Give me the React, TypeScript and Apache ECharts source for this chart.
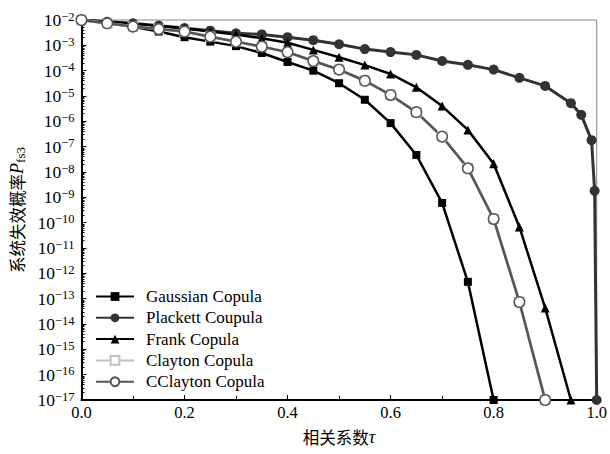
import React, { useEffect, useRef } from "react";
import * as echarts from "echarts";

const seriesNames = ["Gaussian Copula", "Plackett Coupula", "Frank Copula", "Clayton Copula", "CClayton Copula"];

const tauStep = [0, 0.05, 0.1, 0.15, 0.2, 0.25, 0.3, 0.35, 0.4, 0.45, 0.5, 0.55, 0.6, 0.65, 0.7, 0.75, 0.8, 0.85, 0.9, 0.95];
const tauPlackett = [0, 0.05, 0.1, 0.15, 0.2, 0.25, 0.3, 0.35, 0.4, 0.45, 0.5, 0.55, 0.6, 0.65, 0.7, 0.75, 0.8, 0.85, 0.9, 0.95, 0.97, 0.99, 0.996, 1.0];

const gaussian = [1e-2, 7.6e-3, 5.4e-3, 3.5e-3, 2.1e-3, 1.4e-3, 9.3e-4, 5.0e-4, 2.2e-4, 1.0e-4, 3.2e-5, 7.1e-6, 8.5e-7, 4.7e-8, 6.0e-10, 4.6e-13, 1e-17];
const plackett = [1e-2, 8.5e-3, 7.4e-3, 6.0e-3, 4.8e-3, 3.8e-3, 3.0e-3, 2.7e-3, 2.1e-3, 1.6e-3, 1.1e-3, 7.1e-4, 5.4e-4, 4.2e-4, 2.4e-4, 1.7e-4, 1.1e-4, 5.2e-5, 2.5e-5, 5.2e-6, 1.8e-6, 1.8e-7, 1.8e-9, 1e-17];
const frank = [1e-2, 8.5e-3, 7.1e-3, 5.8e-3, 4.6e-3, 3.5e-3, 2.7e-3, 1.9e-3, 1.26e-3, 6.6e-4, 3.4e-4, 1.66e-4, 7.4e-5, 2.2e-5, 4.0e-6, 4.6e-7, 2.1e-8, 6.8e-11, 4.3e-14, 1e-17];
const clayton = [1e-2, 7.4e-3, 5.5e-3, 4.4e-3, 3.5e-3, 2.2e-3, 1.4e-3, 8.9e-4, 5.4e-4, 2.4e-4, 1.1e-4, 4.0e-5, 1.1e-5, 2.3e-6, 2.5e-7, 1.4e-8, 1.4e-10, 7.4e-14, 1e-17];
const cclayton = [1e-2, 7.4e-3, 5.5e-3, 4.4e-3, 3.5e-3, 2.2e-3, 1.4e-3, 8.9e-4, 5.4e-4, 2.4e-4, 1.1e-4, 4.0e-5, 1.1e-5, 2.3e-6, 2.5e-7, 1.4e-8, 1.4e-10, 7.4e-14, 1e-17];

const yMinExp = -17;
const yMaxExp = -2;
const minorMultipliers = [2, 3, 4, 5, 6, 7, 8, 9];

const serif = "'Liberation Serif', 'Times New Roman', 'Noto Sans CJK SC', serif";

function pair(xs: number[], ys: number[]) {
  return ys.map((y, i) => [xs[i], y]);
}

export default function App() {
  const ref = useRef<HTMLDivElement>(null);
  useEffect(() => {
    if (!ref.current) return;
    const chart = echarts.init(ref.current, undefined, { renderer: "svg" });
    const minorVals: number[] = [];
    for (let e = yMinExp; e < yMaxExp; e++) {
      minorMultipliers.forEach((m) => minorVals.push(e + Math.log10(m)));
    }
    const mk = (name: string, data: number[][], color: string, width: number, symbol: string, size: number, fill: string, border: string) => ({
      name,
      type: "line",
      data,
      yAxisIndex: 0,
      symbol,
      symbolSize: size,
      showAllSymbol: true,
      lineStyle: { color, width },
      itemStyle: { color: fill, borderColor: border, borderWidth: fill === "#fff" ? 1.5 : 0 },
      emphasis: { disabled: true },
      clip: true,
    });
    chart.setOption({
      animation: false,
      backgroundColor: "#fff",
      grid: { left: 81, right: 11, top: 20, bottom: 54, show: true, borderColor: "#888", borderWidth: 1 },
      legend: {
        orient: "vertical",
        left: 90,
        top: 283,
        itemWidth: 38,
        itemHeight: 11,
        itemGap: 4.3,
        data: seriesNames,
        textStyle: { fontFamily: serif, fontSize: 17, lineHeight: 17, color: "#000", padding: [0, 0, 0, 7] },
      },
      xAxis: {
        type: "value",
        min: 0,
        max: 1,
        interval: 0.2,
        name: "{cn|相关系数}{it|τ}",
        nameLocation: "middle",
        nameGap: 28,
        nameTextStyle: {
          rich: {
            cn: { fontFamily: "'Noto Sans CJK SC'", fontSize: 16.5, color: "#000" },
            it: { fontFamily: serif, fontStyle: "italic", fontSize: 18, color: "#000" },
          },
        },
        axisLine: { show: true, lineStyle: { color: "#000", width: 2 } },
        axisTick: { show: true, inside: true, length: 5, lineStyle: { color: "#000", width: 1 } },
        minorTick: { show: true, splitNumber: 2, length: 4, lineStyle: { color: "#000", width: 1 } },
        splitLine: { show: false },
        axisLabel: {
          formatter: (v: number) => v.toFixed(1),
          fontFamily: serif,
          fontSize: 16.5,
          color: "#000",
          margin: 4,
        },
      },
      yAxis: [
        {
          type: "log",
          logBase: 10,
          min: Math.pow(10, yMinExp),
          max: Math.pow(10, yMaxExp),
          interval: 1,
          splitNumber: 15,
          name: "{cn|系统失效概率}{it|P}{sub|fs3}",
          nameLocation: "middle",
          nameRotate: 90,
          nameGap: 53,
          nameTextStyle: {
            rich: {
              cn: { fontFamily: "'Noto Sans CJK SC'", fontSize: 16.5, color: "#000" },
              it: { fontFamily: serif, fontStyle: "italic", fontSize: 18, color: "#000" },
              sub: { fontFamily: serif, fontSize: 13, color: "#000", verticalAlign: "bottom", padding: [6, 0, 0, 0] },
            },
          },
          axisLine: { show: true, lineStyle: { color: "#000", width: 2 } },
          axisTick: { show: true, inside: true, length: 5, lineStyle: { color: "#000", width: 1 } },
          splitLine: { show: false },
          axisLabel: {
            margin: 7,
            formatter: (v: number) => {
              const e = Math.round(Math.log10(v));
              return `{b|10}{s|${e < 0 ? "−" : ""}${Math.abs(e)}}`;
            },
            rich: {
              b: { fontFamily: serif, fontSize: 17.5, color: "#000", lineHeight: 19 },
              s: { fontFamily: serif, fontSize: 12.5, color: "#000", verticalAlign: "top", lineHeight: 19 },
            },
          },
        },
        {
          type: "value",
          min: yMinExp,
          max: yMaxExp,
          position: "left",
          axisLine: { show: false },
          axisLabel: { show: false },
          splitLine: { show: false },
          axisTick: { show: true, inside: true, length: 3, customValues: minorVals, lineStyle: { color: "#000", width: 1 } },
        },
      ],
      series: [
        mk(seriesNames[0], pair(tauStep, gaussian), "#000", 2.5, "rect", 8, "#000", "#000"),
        mk(seriesNames[1], pair(tauPlackett, plackett), "#333", 3, "circle", 10, "#333", "#333"),
        mk(seriesNames[2], pair(tauStep, frank), "#000", 2.5, "triangle", 9, "#000", "#000"),
        mk(seriesNames[3], pair(tauStep, clayton), "#c0c0c0", 3, "rect", 9, "#fff", "#c0c0c0"),
        mk(seriesNames[4], pair(tauStep, cclayton), "#555", 2.5, "circle", 10.5, "#fff", "#555"),
      ],
    });
    return () => chart.dispose();
  }, []);
  return <div ref={ref} style={{ width: 610, height: 454, position: "absolute", left: 0, top: 0 }} />;
}
